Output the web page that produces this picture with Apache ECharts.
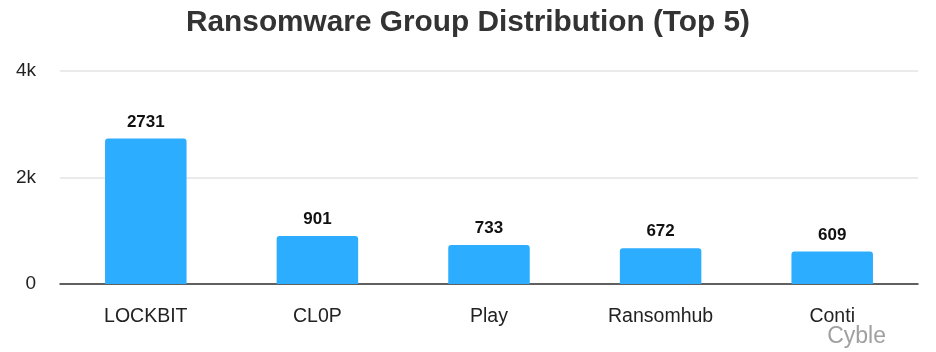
<!DOCTYPE html>
<html>
<head>
<meta charset="utf-8">
<script src="https://cdn.jsdelivr.net/npm/echarts@6/dist/echarts.min.js"></script>
<style>
  html, body { margin: 0; padding: 0; background: #fff; }
  #chart { width: 936px; height: 352px; }
</style>
</head>
<body>
<div id="chart"></div>
<script>
const groups = ['LOCKBIT', 'CL0P', 'Play', 'Ransomhub', 'Conti'];
const victims = [2731, 901, 733, 672, 609];
const yTicks = [0, 2000, 4000];

const FONT = '"Liberation Sans", Arial, sans-serif';
const chart = echarts.init(document.getElementById('chart'));

chart.setOption({
  animation: false,
  title: {
    text: 'Ransomware Group Distribution (Top 5)',
    left: 'center',
    top: 3,
    textStyle: { fontFamily: FONT, fontSize: 29.8, fontWeight: 'bold', color: '#333' }
  },
  graphic: [{
    type: 'text',
    right: 50,
    top: 325,
    style: { text: 'Cyble', fontFamily: FONT, fontSize: 23, fill: '#a0a0a0' }
  }],
  grid: { left: 60, right: 18, top: 71, bottom: 68 },
  xAxis: {
    type: 'category',
    data: groups,
    axisLine: { lineStyle: { color: '#333', width: 1.5 } },
    axisTick: { show: false },
    axisLabel: { fontFamily: FONT, fontSize: 19.5, color: '#222', margin: 23 }
  },
  yAxis: {
    type: 'value',
    min: yTicks[0],
    max: yTicks[yTicks.length - 1],
    interval: 2000,
    axisLine: { show: false },
    axisTick: { show: false },
    splitLine: { lineStyle: { color: '#e3e3e3', width: 1.5 } },
    axisLabel: {
      fontFamily: FONT, fontSize: 19, color: '#222', margin: 24,
      formatter: v => v === 0 ? '0' : (v / 1000) + 'k'
    }
  },
  series: [{
    type: 'bar',
    data: victims,
    barWidth: '47.5%',
    itemStyle: { color: '#2cadff', borderRadius: [3, 3, 0, 0] },
    label: {
      show: true,
      position: 'top',
      distance: 8,
      fontFamily: FONT,
      fontSize: 17,
      fontWeight: 'bold',
      color: '#111'
    }
  }]
});
</script>
</body>
</html>
